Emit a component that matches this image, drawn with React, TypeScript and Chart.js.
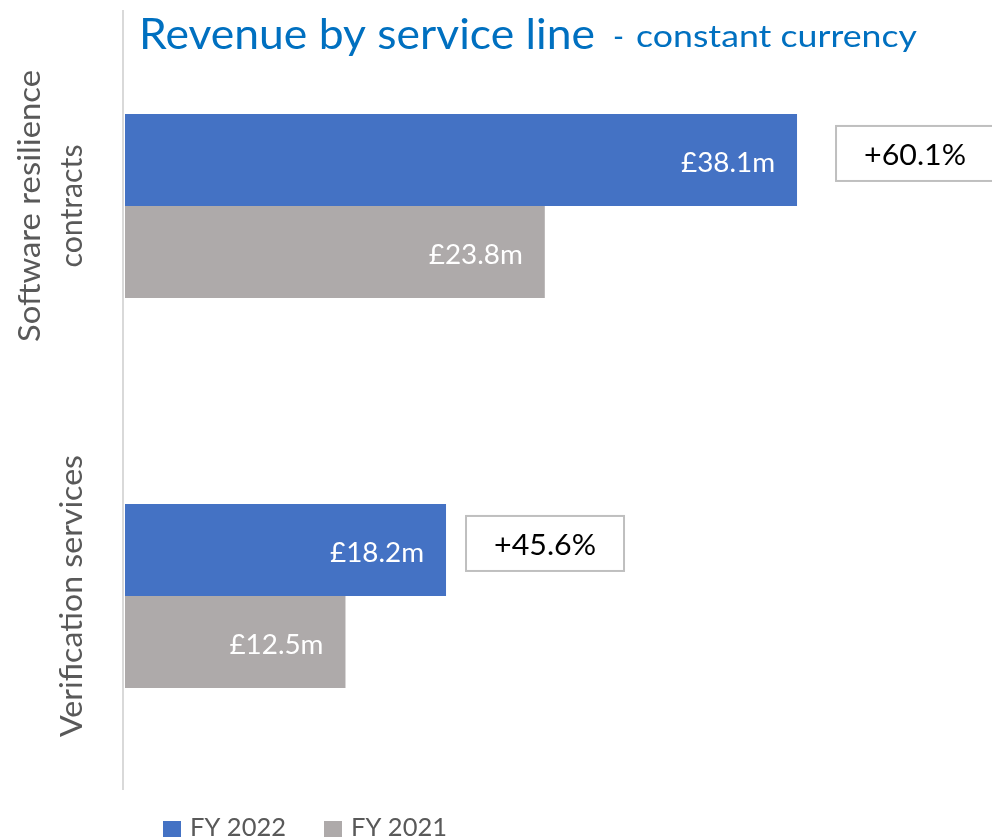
import React, { useEffect, useRef } from "react";
import { Chart, registerables } from "chart.js";

Chart.register(...registerables);

// ---- data ----
const categories: string[][] = [["Software resilience", "contracts"], ["Verification services"]];
const seriesNames = ["FY 2022", "FY 2021"];
const fy2022 = [38.1, 18.2];
const fy2021 = [23.8, 12.5];
const growthLabels = ["+60.1%", "+45.6%"];
const titleMain = "Revenue by service line";
const titleSubDash = "-";
const titleSub = "constant currency";

// ---- styles ----
const FONT = "Lato, 'Open Sans', sans-serif";
const BLUE = "#4472C4";
const GREY = "#AEAAAA";
const TITLE_BLUE = "#0070C0";
const TEXT_GREY = "#595959";

// draw text at a given font size, scaled horizontally to a target width
function drawFit(
  ctx: CanvasRenderingContext2D,
  text: string,
  x: number,
  y: number,
  size: number,
  width: number,
  align: CanvasTextAlign,
  rotate = 0
) {
  ctx.save();
  ctx.font = `${size}px ${FONT}`;
  const w = ctx.measureText(text).width;
  const sx = Math.max(0.7, Math.min(1.3, width / w));
  ctx.translate(x, y);
  if (rotate) ctx.rotate(rotate);
  ctx.scale(sx, 1);
  ctx.textAlign = align;
  ctx.textBaseline = "alphabetic";
  ctx.fillText(text, 0, 0);
  ctx.restore();
}

const fmt = (v: number) => `£${v.toFixed(1)}m`;

const overlay = {
  id: "overlay",
  afterDatasetsDraw(chart: any) {
    const ctx: CanvasRenderingContext2D = chart.ctx;
    const area = chart.chartArea;
    const yScale = chart.scales.y;
    ctx.save();

    // axis line
    ctx.strokeStyle = "#D9D9D9";
    ctx.lineWidth = 2;
    ctx.beginPath();
    ctx.moveTo(area.left - 2, area.top - 1);
    ctx.lineTo(area.left - 2, area.bottom - 1);
    ctx.stroke();

    // title
    ctx.fillStyle = TITLE_BLUE;
    drawFit(ctx, titleMain, 139, 49, 43, 456, "left");
    drawFit(ctx, titleSubDash, 613, 47, 30, 11, "left");
    drawFit(ctx, titleSub, 636, 47, 30, 281, "left");

    // category labels (rotated)
    ctx.fillStyle = TEXT_GREY;
    const labelWidths: Record<string, number> = {
      "Software resilience": 272,
      contracts: 123,
      "Verification services": 282,
    };
    categories.forEach((lines, i) => {
      const yc = yScale.getPixelForValue(i);
      lines.forEach((line, j) => {
        const x = 82 - (lines.length - 1 - j) * 42;
        ctx.save();
        ctx.font = `31px ${FONT}`;
        const w = labelWidths[line] ?? ctx.measureText(line).width * 0.9;
        ctx.restore();
        drawFit(ctx, line, x, yc, 31, w, "center", -Math.PI / 2);
      });
    });

    // value labels
    ctx.fillStyle = "#FFFFFF";
    chart.data.datasets.forEach((ds: any, di: number) => {
      const meta = chart.getDatasetMeta(di);
      meta.data.forEach((el: any, i: number) => {
        drawFit(ctx, fmt(ds.data[i]), el.x - 22, el.y + 12, 26, 94, "right");
      });
    });

    // growth callouts
    const blueMeta = chart.getDatasetMeta(0);
    const boxOffsets = [39, 20];
    growthLabels.forEach((g, i) => {
      const el = blueMeta.data[i];
      const top = el.y - el.height / 2 + 12;
      const left = el.x + boxOffsets[i];
      ctx.fillStyle = "#FFFFFF";
      ctx.fillRect(left, top, 158, 55);
      ctx.strokeStyle = "#BFBFBF";
      ctx.lineWidth = 2;
      ctx.strokeRect(left, top, 158, 55);
      ctx.fillStyle = "#000000";
      drawFit(ctx, g, left + 79, top + 39, 28, 102, "center");
    });

    // legend
    const legendX = [163, 324];
    seriesNames.forEach((name, i) => {
      ctx.fillStyle = chart.data.datasets[i].backgroundColor;
      ctx.fillRect(legendX[i], 821, 18, 16);
      ctx.fillStyle = TEXT_GREY;
      drawFit(ctx, name, legendX[i] + 27, 836, 25, 96, "left");
    });

    ctx.restore();
  },
};

export default function App() {
  const ref = useRef<HTMLCanvasElement>(null);
  useEffect(() => {
    if (!ref.current) return;
    const chart = new Chart(ref.current, {
      type: "bar",
      data: {
        labels: categories as any,
        datasets: [
          { label: seriesNames[0], data: fy2022, backgroundColor: BLUE, categoryPercentage: 0.472, barPercentage: 1 },
          { label: seriesNames[1], data: fy2021, backgroundColor: GREY, categoryPercentage: 0.472, barPercentage: 1 },
        ],
      },
      options: {
        indexAxis: "y",
        animation: false,
        responsive: false,
        maintainAspectRatio: false,
        layout: { padding: { left: 125, right: 8, top: 11, bottom: 47 } },
        scales: {
          x: { display: false, min: 0, max: 48.7 },
          y: { display: false },
        },
        plugins: {
          legend: { display: false },
          title: { display: false },
          tooltip: { enabled: false },
        },
      },
      plugins: [overlay],
    });
    return () => chart.destroy();
  }, []);
  return (
    <div style={{ position: "fixed", left: 0, top: 0, width: 992, height: 838, background: "#fff" }}>
      <canvas ref={ref} width={992} height={838} style={{ width: 992, height: 838, display: "block" }} />
    </div>
  );
}
